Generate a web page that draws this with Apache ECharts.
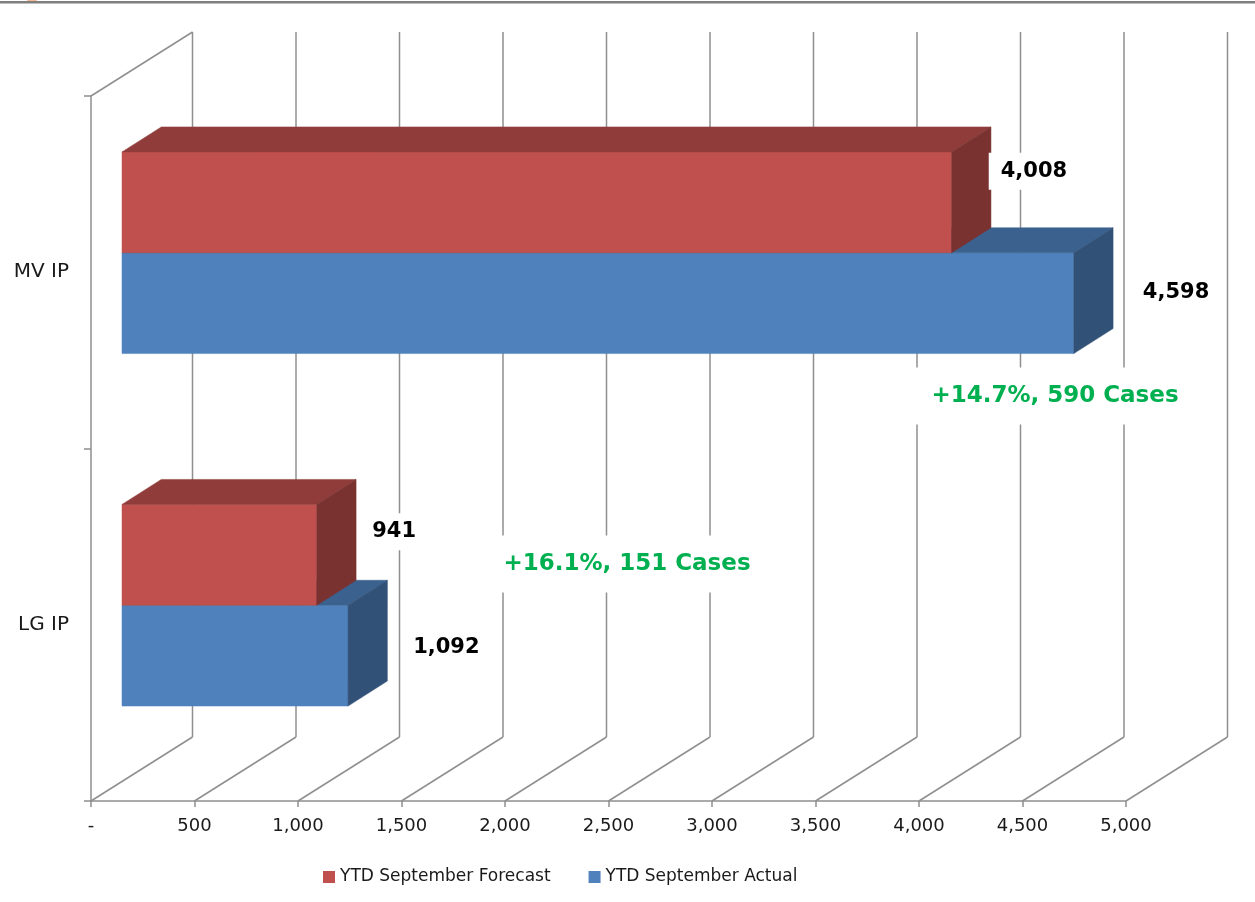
<!DOCTYPE html>
<html>
<head>
<meta charset="utf-8">
<script src="https://cdn.jsdelivr.net/npm/echarts@6/dist/echarts.min.js"></script>
<style>
  html, body { margin: 0; padding: 0; background: #ffffff; }
  #chart { width: 1255px; height: 902px; }
</style>
</head>
<body>
<div id="chart"></div>
<script>
// ---- data ----
const categories = ['LG IP', 'MV IP'];
const forecastValues = [941, 4008];
const actualValues = [1092, 4598];
const xTickValues = [0, 500, 1000, 1500, 2000, 2500, 3000, 3500, 4000, 4500, 5000];
const seriesNames = ['YTD September Forecast', 'YTD September Actual'];
const changeNotes = ['+16.1%, 151 Cases', '+14.7%, 590 Cases'];

// ---- layout / style constants ----
const WALL_DX = 101.5, WALL_DY = -64;    // depth of back wall
const FRONT_DX = 31, FRONT_DY = -19.5;   // bar front face depth
const BAR_DX = 39.3, BAR_DY = -25;       // bar depth
const BAR_FRAC = 0.286;                  // bar thickness as share of band
const GRID_COLOR = '#8f8f8f';
const COLORS = {
  forecast: { front: '#C0504D', top: '#903C3A', side: '#7A3230' },
  actual:   { front: '#4F81BD', top: '#3B618E', side: '#325177' }
};
const LABEL_NUDGE = {
  forecast: [[38, -23], [43, -31]],
  actual:   [[59, -8], [63, -11]]
};
const NOTE_POS = [[627, 564], [1055, 396]];
const FONT = '"DejaVu Sans", Verdana, sans-serif';

function fmt(v) { return v.toLocaleString('en-US'); }

function gridRender(params, api) {
  const v = api.value(0);
  const cs = params.coordSys;
  const floorY = cs.y + cs.height;
  const topY = cs.y;
  const p = api.coord([v, 0]);
  const x = p[0];
  const style = { stroke: GRID_COLOR, lineWidth: 1.5, fill: null };
  const children = [
    { type: 'line', shape: { x1: x, y1: floorY, x2: x + WALL_DX, y2: floorY + WALL_DY }, style: style },
    { type: 'line', shape: { x1: x + WALL_DX, y1: floorY + WALL_DY, x2: x + WALL_DX, y2: topY + WALL_DY }, style: style }
  ];
  if (v === 0) {
    children.push({ type: 'line', shape: { x1: cs.x, y1: topY, x2: cs.x + WALL_DX, y2: topY + WALL_DY }, style: style });
  }
  return { type: 'group', children: children };
}

function barRender(kind) {
  return function (params, api) {
    const v = api.value(0);
    const ci = api.value(1);
    const end = api.coord([v, ci]);
    const start = api.coord([0, ci]);
    const band = api.size([0, 1])[1];
    const bh = band * BAR_FRAC;
    const yTop = (kind === 'forecast' ? end[1] - bh : end[1]) + FRONT_DY;
    const yBot = yTop + bh;
    const xl = start[0] + FRONT_DX;
    const xr = end[0] + FRONT_DX;
    const c = COLORS[kind];
    const nudge = LABEL_NUDGE[kind][ci];
    return {
      type: 'group',
      children: [
        { type: 'rect', shape: { x: xl, y: yTop, width: xr - xl, height: bh },
          style: { fill: c.front, stroke: c.front, lineWidth: 0.5 } },
        { type: 'polygon', shape: { points: [[xl, yTop], [xl + BAR_DX, yTop + BAR_DY], [xr + BAR_DX, yTop + BAR_DY], [xr, yTop]] },
          style: { fill: c.top, stroke: c.top, lineWidth: 0.5 } },
        { type: 'polygon', shape: { points: [[xr, yTop], [xr + BAR_DX, yTop + BAR_DY], [xr + BAR_DX, yBot + BAR_DY], [xr, yBot]] },
          style: { fill: c.side, stroke: c.side, lineWidth: 0.5 } },
        { type: 'text', z2: 20, x: xr + BAR_DX + nudge[0], y: (yTop + yBot) / 2 + nudge[1],
          style: { text: fmt(v), font: 'bold 21px ' + FONT, fill: '#000000',
                   align: 'center', verticalAlign: 'middle',
                   backgroundColor: '#ffffff', padding: [8, 12] } }
      ]
    };
  };
}

const noteGraphics = changeNotes.map(function (t, i) {
  return { type: 'text', z: 100, x: NOTE_POS[i][0], y: NOTE_POS[i][1],
    style: { text: t, font: 'bold 23px ' + FONT, fill: '#00B050',
             align: 'center', verticalAlign: 'middle', backgroundColor: '#ffffff', padding: [17, 17] } };
});

const chart = echarts.init(document.getElementById('chart'), null, { renderer: 'canvas' });
chart.setOption({
  animation: false,
  backgroundColor: '#ffffff',
  grid: { left: 91, right: 129, top: 96, bottom: 101, containLabel: false },
  xAxis: {
    type: 'value', min: 0, max: 5000, interval: 500,
    axisLine: { show: true, lineStyle: { color: GRID_COLOR, width: 1.5 } },
    axisTick: { show: true, length: 6, lineStyle: { color: GRID_COLOR, width: 1.5 } },
    splitLine: { show: false },
    axisLabel: { margin: 16, fontSize: 18, fontFamily: FONT, color: '#1a1a1a',
                 formatter: function (v) { return v === 0 ? '-' : fmt(v); } }
  },
  yAxis: {
    type: 'category', data: categories,
    axisLine: { show: true, lineStyle: { color: GRID_COLOR, width: 1.5 } },
    axisTick: { show: true, length: 7, lineStyle: { color: GRID_COLOR, width: 1.5 } },
    splitLine: { show: false },
    axisLabel: { margin: 22, fontSize: 20, fontFamily: FONT, color: '#1a1a1a' }
  },
  legend: {
    data: [seriesNames[0], seriesNames[1]],
    left: 323, top: 868.5, padding: 0,
    icon: 'rect', itemWidth: 12, itemHeight: 12, itemGap: 38,
    textStyle: { fontSize: 17, fontFamily: FONT, color: '#1a1a1a' }
  },
  graphic: [
    { type: 'rect', z: 100, shape: { x: 0, y: 1, width: 1255, height: 2.5 }, style: { fill: '#7f7f7f' } },
    { type: 'circle', z: 99, shape: { cx: 32, cy: -7, r: 9 }, style: { fill: '#f4b896' } }
  ].concat(noteGraphics),
  series: [
    { type: 'custom', name: 'walls', coordinateSystem: 'cartesian2d', z: 1, silent: true,
      renderItem: gridRender, data: xTickValues.map(function (v) { return [v, 0]; }) },
    { type: 'custom', name: seriesNames[1], coordinateSystem: 'cartesian2d', z: 3,
      itemStyle: { color: COLORS.actual.front },
      renderItem: barRender('actual'), data: actualValues.map(function (v, i) { return [v, i]; }) },
    { type: 'custom', name: seriesNames[0], coordinateSystem: 'cartesian2d', z: 4,
      itemStyle: { color: COLORS.forecast.front },
      renderItem: barRender('forecast'), data: forecastValues.map(function (v, i) { return [v, i]; }) }
  ]
});
</script>
</body>
</html>
